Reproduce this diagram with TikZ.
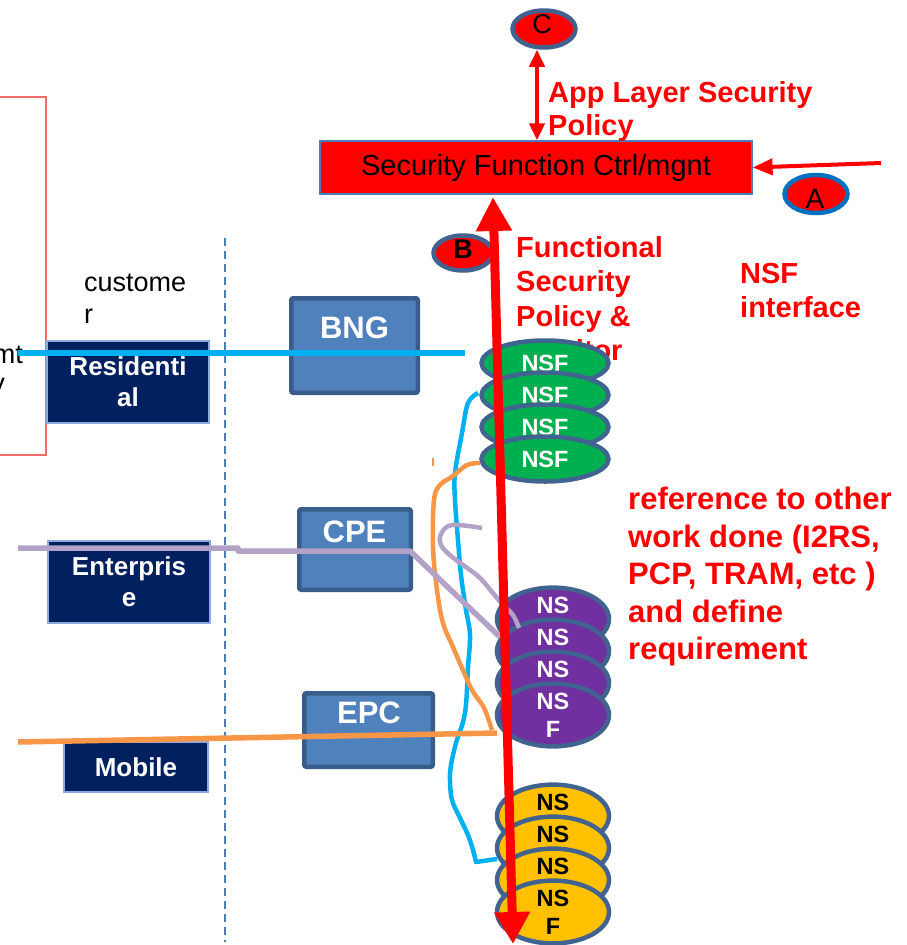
\documentclass[tikz,border=0pt]{standalone}
\usepackage{fontspec}
\setmainfont{Liberation Sans}
\usetikzlibrary{arrows.meta,shapes.geometric,calc}
\definecolor{navy}{HTML}{002060}
\definecolor{navyborder}{HTML}{8EA9DB}
\definecolor{boxfill}{HTML}{4F81BD}
\definecolor{boxborder}{HTML}{385D8A}
\definecolor{ellborder}{HTML}{41638F}
\definecolor{ablue}{HTML}{0070C0}
\definecolor{nsfgreen}{HTML}{00B050}
\definecolor{nsfpurple}{HTML}{7030A0}
\definecolor{nsfyellow}{HTML}{FFC000}
\definecolor{cyanline}{HTML}{00B0F0}
\definecolor{orangeline}{HTML}{F79646}
\definecolor{lavline}{HTML}{B3A2C7}
\definecolor{leftred}{HTML}{F26C6C}
\definecolor{dashblue}{HTML}{4A7EBB}
\definecolor{pured}{HTML}{FF0000}
\begin{document}
\begin{tikzpicture}[x=1pt,y=-1pt,
  redtxt/.style={text=pured, font=\bfseries\fontsize{29}{34.5}\selectfont, align=left, inner sep=0pt, anchor=north west},
  blacktxt/.style={text=black, font=\fontsize{27}{32}\selectfont, align=left, inner sep=0pt},
  navybox/.style={draw=navyborder, line width=1.2pt, fill=navy, text=white, font=\bfseries\fontsize{26}{31}\selectfont, align=center, inner sep=0pt},
  bluebox/.style={draw=boxborder, line width=4.5pt, fill=boxfill, rounded corners=2pt, inner sep=0pt},
  boxtxt/.style={text=white, font=\bfseries\fontsize{31}{31}\selectfont, inner sep=0pt},
  ellbase/.style={ellipse, draw=ellborder, line width=4.5pt, inner sep=0pt, align=center},
  greenell/.style={ellbase, fill=nsfgreen, minimum width=127pt, minimum height=45pt, text=white, font=\bfseries\fontsize{23.5}{28}\selectfont},
  purpleell/.style={ellbase, fill=nsfpurple, minimum width=112pt, minimum height=44pt, text=white, font=\bfseries\fontsize{23.5}{28}\selectfont},
  yellowell/.style={ellbase, fill=nsfyellow, minimum width=112pt, minimum height=52pt, text=black, font=\bfseries\fontsize{23.5}{28}\selectfont},
  redell/.style={ellipse, fill=pured, line width=4.5pt, inner sep=0pt},
  letter/.style={inner sep=0pt, text=black},
  flowline/.style={line width=5.5pt, line cap=butt, line join=round},
]
\useasboundingbox (0,0) rectangle (906,945);
\clip (0,0) rectangle (906,945);

% left clipped frame and text
\draw[leftred, line width=1.2pt] (-5,97) -- (46,97) -- (46,455) -- (-5,455);
\node[blacktxt, anchor=base east] (mgmt) at (23,363) {mgmt};
\node[blacktxt, anchor=base east] (poly) at (5,392) {policy};

% dashed boundary
\coordinate (dtop) at (225,238);
\coordinate (dbot) at (225,942);
\draw[dashblue, line width=1.8pt, dash pattern=on 8pt off 5pt] (dtop) -- (dbot);

% customer label
\node[blacktxt, anchor=north west] (cust) at (84,274) {custome\\r};

% customer boxes
\node[navybox, minimum width=162pt, minimum height=82pt] (res) at (128,382) {Residenti\\al};
\node[navybox, minimum width=162pt, minimum height=82pt] (ent) at (129,582) {Enterpris\\e};
\node[navybox, minimum width=144pt, minimum height=50pt] (mob) at (136,767) {Mobile};

% access boxes
\node[bluebox, minimum width=126.5pt, minimum height=94.5pt] (bng) at (354.5,345.5) {};
\node[boxtxt] (bngt) at (354.5,328) {BNG};
\node[bluebox, minimum width=111.5pt, minimum height=80.5pt] (cpe) at (355,549.5) {};
\node[boxtxt] (cpet) at (354.5,532) {CPE};
\node[bluebox, minimum width=128.5pt, minimum height=73.5pt] (epc) at (368.5,730) {};
\node[boxtxt] (epct) at (369,713) {EPC};

% security function controller
\node[draw=dashblue, line width=1.2pt, fill=pured, minimum width=432pt, minimum height=53pt, inner sep=0pt,
      font=\fontsize{29}{34}\selectfont, text=black] (sec) at (536,167.5) {Security Function Ctrl/mgnt};

% red texts
\node[redtxt, font=\bfseries\fontsize{29}{33}\selectfont] (applbl) at (548,81) {App Layer Security\\Policy};
\node[redtxt] (funclbl) at (516,236) {Functional\\Security\\Policy \&\\Monitor};
\node[redtxt] (nsflbl) at (740,263) {NSF\\interface};
\node[redtxt, font=\bfseries\fontsize{31}{37.5}\selectfont] (reflbl) at (628,487) {reference to other\\work done (I2RS,\\PCP, TRAM, etc )\\and define\\requirement};

% interface ellipses
\node[redell, draw=ellborder, minimum width=63pt, minimum height=37pt] (C) at (544,29) {};
\node[letter, font=\fontsize{27}{27}\selectfont] (Ct) at (542,24) {C};
\node[redell, draw=ablue, minimum width=63pt, minimum height=38pt] (A) at (816,194) {};
\node[letter, font=\fontsize{28}{28}\selectfont] (At) at (815,199) {A};
\node[redell, draw=ellborder, minimum width=59pt, minimum height=35pt] (B) at (463,253) {};
\node[letter, font=\bfseries\fontsize{27}{27}\selectfont] (Bt) at (463,249) {B};

% NSF stacks
\node[greenell] (g1) at (545,363) {NSF};
\node[greenell] (g2) at (545,395) {NSF};
\node[greenell] (g3) at (545,427) {NSF};
\node[greenell] (g4) at (545,459) {NSF};

\node[purpleell] (p1) at (553,619) {NS\\F};
\node[purpleell] (p2) at (553,651) {NS\\F};
\node[purpleell] (p3) at (553,683) {NS\\F};
\node[purpleell] (p4) at (553,715) {NS\\F};

\node[yellowell] (y1) at (553,816) {NS\\F};
\node[yellowell] (y2) at (553,848) {NS\\F};
\node[yellowell] (y3) at (553,880) {NS\\F};
\node[yellowell] (y4) at (553,912) {NS\\F};

% traffic lines
\coordinate (cyA) at (18,353);
\coordinate (cyB) at (465,353);
\draw[flowline, cyanline] (cyA) -- (cyB);
\draw[flowline, cyanline, line width=4.5pt] plot[smooth, tension=0.6] coordinates {(478,393) (468,403) (462,433) (455,473) (455,500) (458,540) (461,575) (466,610) (470,635) (468,667) (465,713) (456,743) (451,765) (450,780) (452,800) (460,818) (468,835) (473,850) (476,862)} -- (497,859);

\coordinate (orA) at (18,742);
\coordinate (orB) at (497,733);
\draw[flowline, orangeline] (orA) -- (orB);
\draw[flowline, orangeline, line width=4.5pt] plot[smooth, tension=0.6] coordinates {(480,463) (467,465) (453,476) (440,485) (434,500) (433,547) (437,590) (443,623) (453,647) (462,668) (472,690) (483,706) (488,718) (492,730)};
\draw[orangeline, line width=2.5pt] (433,458) -- (433,466);

\coordinate (lvA) at (18,548);
\coordinate (lvB) at (238,548);
\coordinate (lvC) at (238,551);
\coordinate (lvD) at (410,551);
\coordinate (lvE) at (500,637);
\draw[flowline, lavline] (lvA) -- (lvB) -- (lvC) -- (lvD) -- (lvE);
\draw[flowline, lavline, line width=4.5pt] plot[smooth, tension=0.6] coordinates {(482,528) (452,525) (441,534) (441,545) (451,556) (466,567) (480,578) (492,592) (503,605) (513,615) (519,628)};

% red arrows
\coordinate (cx) at (537,0);
\draw[pured, line width=4pt, {Triangle[width=15pt,length=17pt]}-{Triangle[width=15pt,length=17pt]}] (C.south -| cx) -- (sec.north -| cx);
\coordinate (ain) at (881,163);
\draw[pured, line width=4pt, -{Triangle[width=16pt,length=20pt]}] (ain) -- (sec.east);
\coordinate (bt) at (493,197);
\coordinate (bb) at (513,944);
\draw[pured, line width=9pt, {Triangle[width=34pt,length=34pt]}-{Triangle[width=34pt,length=32pt]}] (bt) -- (bb);
\end{tikzpicture}
\end{document}
